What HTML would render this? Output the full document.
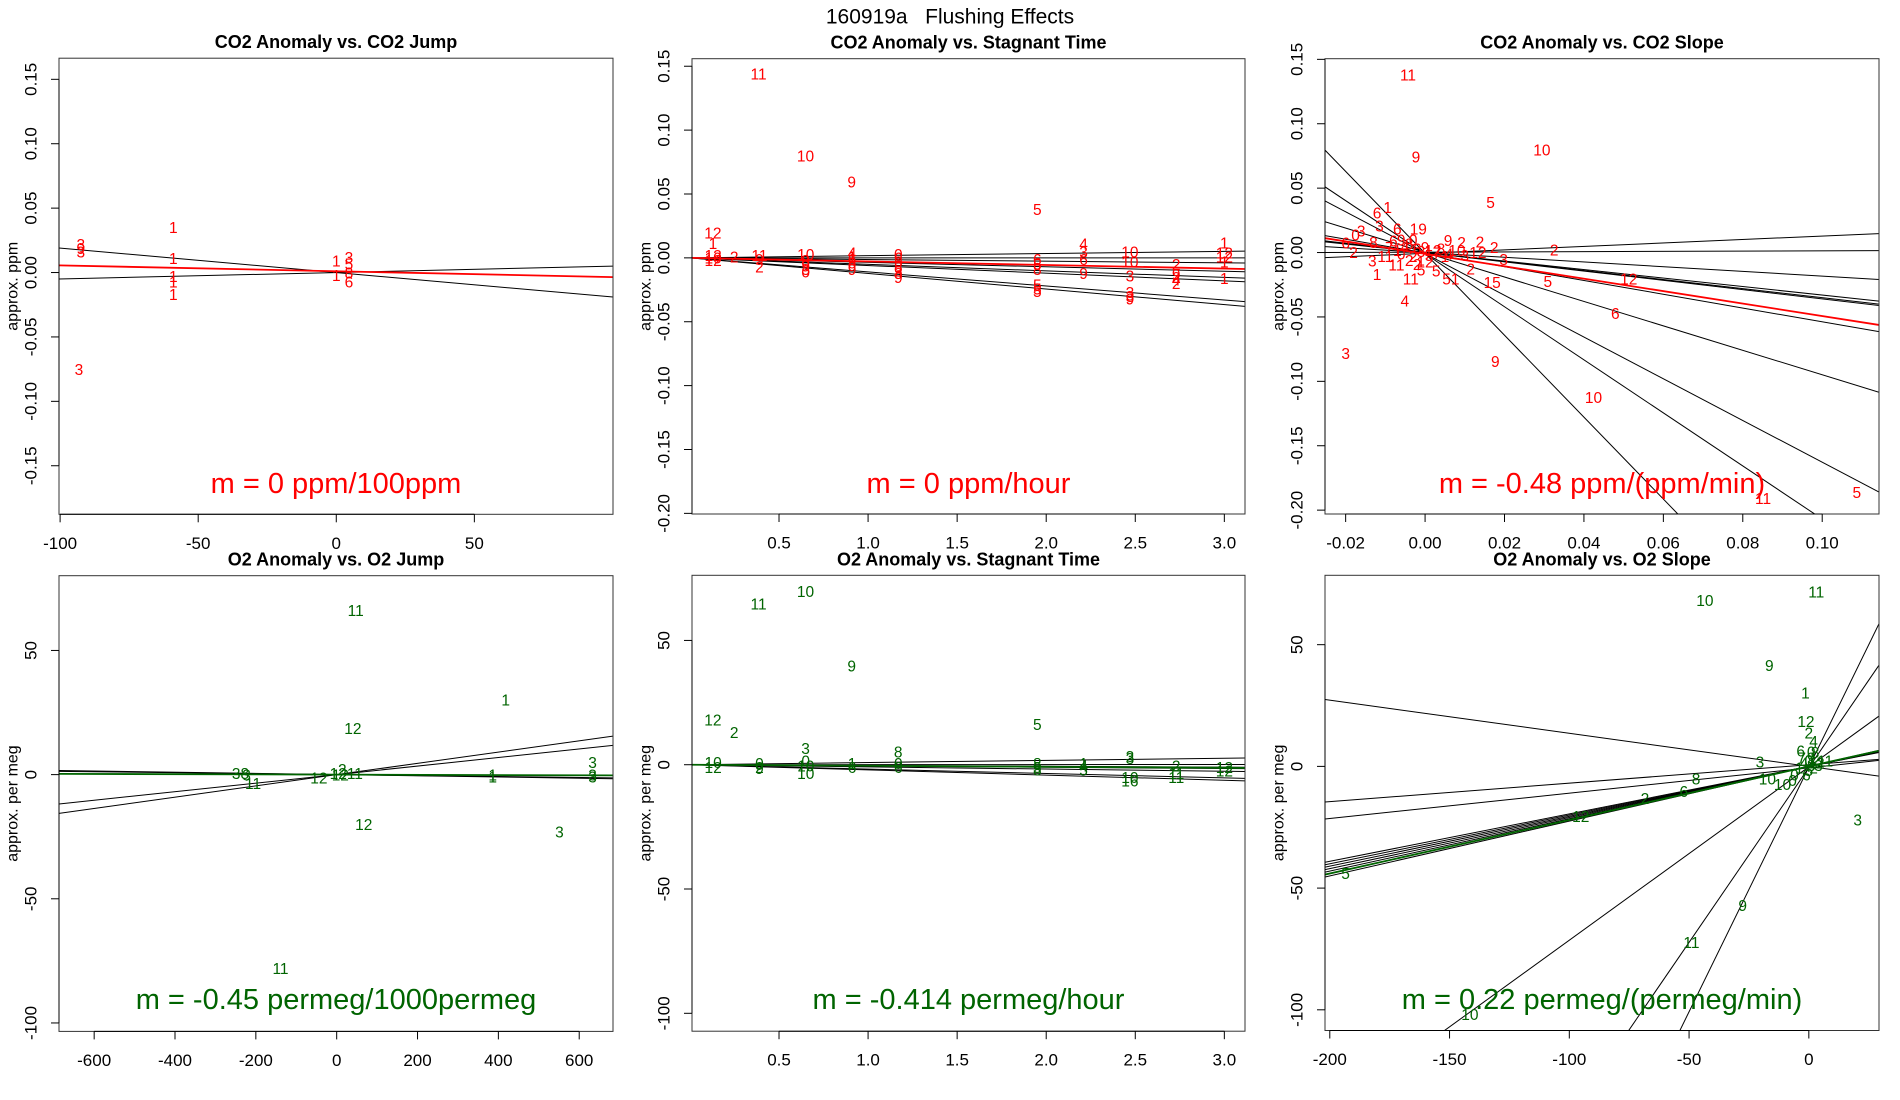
<!DOCTYPE html>
<html><head><meta charset="utf-8"><style>
html,body{margin:0;padding:0;background:#fff;width:1900px;height:1100px;overflow:hidden;}
svg{display:block;font-family:"Liberation Sans",Arial,sans-serif;}
</style></head><body>
<svg id="chart" width="1900" height="1100" viewBox="0 0 1900 1100" xmlns="http://www.w3.org/2000/svg">
<rect x="0" y="0" width="1900" height="1100" fill="#fff"/>
<text x="950" y="17" text-anchor="middle" dominant-baseline="central" font-size="21" fill="#000" xml:space="preserve">160919a   Flushing Effects</text>
</svg>
<script>
// ---------- Panel 1: CO2 Anomaly vs CO2 Jump ----------
const p1Lab = ["3","9","3","1","1","1","1","1","3","1","3","1","5","6","8"];
const p1X = [-92.5,-92.5,-92.5,-59,-59,-59,-59,-59,-93.2,0,4.6,0,4.6,4.6,4.6];
const p1Y = [0.021,0.018,0.015,0.034,0.010,-0.004,-0.008,-0.018,-0.076,0.008,0.011,-0.003,0.006,-0.008,-0.001];
const p1Slopes = [-0.00019,0.00005];
const p1Ints = [0,0];
const p1FitSlope = [-0.0000455];
const p1FitInt = [0.001];
const p1XTicks = [-100,-50,0,50];
const p1XTickLabels = ["-100","-50","0","50"];
const p1YTicks = [-0.15,-0.10,-0.05,0,0.05,0.10,0.15];
const p1YTickLabels = ["-0.15","-0.10","-0.05","0.00","0.05","0.10","0.15"];

// ---------- Panel 2: CO2 Anomaly vs Stagnant Time ----------
const p2Lab = ["11","10","9","5","12","1","12","10","12","2","11","9","2","10","8","9","3","0","4","1","6","8","9","0","6","5","8","3","8","9","6","5","8","5","5","5","4","3","6","9","10","10","3","3","3","9","2","9","2","4","2","1","12","12","1","1"];
const p2X = [0.385,0.649,0.908,1.95,0.129,0.129,0.13,0.13,0.13,0.248,0.39,0.39,0.39,0.65,0.65,0.65,0.65,0.65,0.91,0.91,0.91,0.91,0.91,1.17,1.17,1.17,1.17,1.17,1.17,1.17,1.95,1.95,1.95,1.95,1.95,1.95,2.21,2.21,2.21,2.21,2.47,2.47,2.47,2.47,2.47,2.47,2.73,2.73,2.73,2.73,2.73,3.0,3.0,3.0,3.0,3.0];
const p2Y = [0.143,0.079,0.0585,0.037,0.0186,0.0106,0.001,-0.001,-0.003,0,0.001,-0.002,-0.008,0.002,-0.003,-0.007,-0.010,-0.012,0.003,0.0,-0.002,-0.005,-0.010,0.002,-0.001,-0.004,-0.008,-0.011,-0.013,-0.016,-0.002,-0.006,-0.010,-0.022,-0.025,-0.027,0.010,0.004,-0.002,-0.013,0.004,-0.004,-0.015,-0.028,-0.031,-0.033,-0.006,-0.014,-0.016,-0.018,-0.021,0.011,0.003,0.000,-0.004,-0.017];
const p2Slopes = [0.0017,0.0,-0.0013,-0.0035,-0.0051,-0.006,-0.011,-0.0122];
const p2Ints = [0,0,0,0,0,0,0,0];
const p2FitSlope = [-0.0028];
const p2FitInt = [0];
const p2XTicks = [0.5,1.0,1.5,2.0,2.5,3.0];
const p2XTickLabels = ["0.5","1.0","1.5","2.0","2.5","3.0"];
const p2YTicks = [-0.20,-0.15,-0.10,-0.05,0,0.05,0.10,0.15];
const p2YTickLabels = ["-0.20","-0.15","-0.10","-0.05","0.00","0.05","0.10","0.15"];

// ---------- Panel 3: CO2 Anomaly vs CO2 Slope ----------
const p3Lab = ["11","10","9","5","6","1","3","6","19","3","0","6","2","8","3","1","11","11","4","3","9","2","2","2","12","3","2","5","5","51","15","2","5","12","6","9","10","11","5","7","1","0","4","8","2","6","3","9","5","12","7","8","1","4","10","3","6","9","2","11","0","12","2"];
const p3X = [-0.0043,0.0294,-0.0023,0.0165,-0.0121,-0.0094,-0.0115,-0.007,-0.0017,-0.0161,-0.0175,-0.020,-0.018,-0.013,-0.0133,-0.0121,-0.0072,-0.0036,-0.0051,-0.020,0.0058,0.0092,0.0138,0.0174,0.0133,0.0198,0.0115,0.0028,-0.001,0.0065,0.0169,0.0325,0.0309,0.0513,0.0479,0.0177,0.0424,0.0851,0.1087,-0.009,-0.007,-0.006,-0.005,-0.004,-0.003,-0.002,-0.001,0.000,0.001,0.002,0.003,0.004,0.005,0.006,0.008,0.010,-0.008,-0.006,-0.004,-0.010,-0.003,0.0,-0.002];
const p3Y = [0.137,0.079,0.0734,0.038,0.030,0.034,0.020,0.0176,0.0176,0.0158,0.013,0.0066,-0.0008,0.007,-0.0074,-0.0179,-0.0105,-0.0213,-0.0384,-0.0792,0.0084,0.0071,0.0076,0.0032,-0.0008,-0.006,-0.0134,-0.0153,-0.0145,-0.0213,-0.024,0.0013,-0.0232,-0.0213,-0.0482,-0.0855,-0.1134,-0.1916,-0.1871,0.003,0.001,-0.002,0.004,0.006,-0.004,0.002,0.0,0.003,-0.003,0.001,-0.001,0.002,-0.004,-0.002,0.001,-0.003,0.008,0.009,-0.007,-0.004,0.009,-0.008,-0.010];
const p3Slopes = [-3.18,-2.06,-1.62,-0.949,-0.535,-0.33,-0.35,-0.36,-0.183,0.01,0.134];
const p3Ints = [-0.0006,-0.0009,-0.0008,0,-0.0003,0,0,0,0,0.0003,-0.0006];
const p3FitSlope = [-0.483];
const p3FitInt = [-0.001];
const p3XTicks = [-0.02,0,0.02,0.04,0.06,0.08,0.10];
const p3XTickLabels = ["-0.02","0.00","0.02","0.04","0.06","0.08","0.10"];
const p3YTicks = [-0.20,-0.15,-0.10,-0.05,0,0.05,0.10,0.15];
const p3YTickLabels = ["-0.20","-0.15","-0.10","-0.05","0.00","0.05","0.10","0.15"];

// ---------- Panel 4: O2 Anomaly vs O2 Jump ----------
const p4Lab = ["11","1","12","3","3","3","1","1","3","12","11","38","3","11","12","12","12","2","11"];
const p4X = [47,418,40,633,633,633,386,386,551,67,-139,-238,-223,-207,-44,4,9,14,45];
const p4Y = [65.7,29.7,18.2,4.5,-1.3,-0.5,-1.3,-0.6,-23.6,-20.5,-78.4,0,-0.6,-3.9,-1.7,0.1,-0.6,1.6,0.1];
const p4Slopes = [-0.0024,-0.0019,0.0172,0.0227];
const p4Ints = [0,0,0,0];
const p4FitSlope = [-0.00045];
const p4FitInt = [0];
const p4XTicks = [-600,-400,-200,0,200,400,600];
const p4XTickLabels = ["-600","-400","-200","0","200","400","600"];
const p4YTicks = [-100,-50,0,50];
const p4YTickLabels = ["-100","-50","0","50"];

// ---------- Panel 5: O2 Anomaly vs Stagnant Time ----------
const p5Lab = ["10","11","9","12","2","5","3","8","10","12","0","2","9","0","10","10","1","6","0","6","8","5","8","1","4","5","3","3","10","16","2","11","11","12","12"];
const p5X = [0.649,0.385,0.908,0.129,0.248,1.95,0.649,1.169,0.13,0.13,0.39,0.39,0.39,0.65,0.65,0.65,0.91,0.91,1.17,1.17,1.95,1.95,1.95,2.21,2.21,2.21,2.47,2.47,2.47,2.47,2.73,2.73,2.73,3.0,3.0];
const p5Y = [69.3,64.3,39.4,17.6,12.5,15.7,6.1,4.7,0.5,-1.5,0,-1.5,-2,1,-1,-4,0,-1.5,0,-1.5,0,-1.5,-2.5,0,-1,-2.5,3,2,-5.5,-7,-1,-4,-5.5,-1.5,-3];
const p5Slopes = [0.87,0.03,-0.32,-0.51,-0.87,-1.77,-2.09];
const p5Ints = [0,0,0,0,0,0,0];
const p5FitSlope = [-0.414];
const p5FitInt = [0];
const p5XTicks = [0.5,1.0,1.5,2.0,2.5,3.0];
const p5XTickLabels = ["0.5","1.0","1.5","2.0","2.5","3.0"];
const p5YTicks = [-100,-50,0,50];
const p5YTickLabels = ["-100","-50","0","50"];

// ---------- Panel 6: O2 Anomaly vs O2 Slope ----------
const p6Lab = ["10","11","9","1","12","2","4","6","0","8","3","8","10","10","0","6","2","12","3","5","9","11","10","11","1","4","6","0","8","2","7","5","12","9","0","3"];
const p6X = [-43.4,3.1,-16.5,-1.4,-1.2,0,2,-3.4,1,2.6,-20.4,-47.1,-17.3,-11,-6.8,-52.2,-68.4,-95.2,20.4,-193.4,-27.6,-49,-141.5,6.8,-4,-2,-1,0,1,2,-3,0,3,1,-6,4];
const p6Y = [67.7,71.2,41.1,29.8,18,13.3,9.9,6,5.5,5.2,1.4,-5.5,-5.5,-7.9,-6.2,-10.8,-13.7,-20.9,-22.5,-44.4,-57.6,-72.8,-102.3,1.7,-1,1,-4,2,0,-1,3,-2,1,3,-4,0];
const p6Slopes = [2.01,1.436,0.712,-0.136,0.0758,0.104,0.195,0.2,0.205,0.21,0.215,0.225];
const p6Ints = [-0.3,-0.5,-0.2,0,0.68,-0.6,0,0,0,0,0,0];
const p6FitSlope = [0.22];
const p6FitInt = [0];
const p6XTicks = [-200,-150,-100,-50,0];
const p6XTickLabels = ["-200","-150","-100","-50","0"];
const p6YTicks = [-100,-50,0,50];
const p6YTickLabels = ["-100","-50","0","50"];

const NS = "http://www.w3.org/2000/svg";
const svg = document.getElementById("chart");
function mk(tag, attrs, parent){
  const e = document.createElementNS(NS, tag);
  for (const k in attrs) e.setAttribute(k, attrs[k]);
  (parent||svg).appendChild(e);
  return e;
}

const panels = [
 {id:"co2-jump", title:"CO2 Anomaly vs. CO2 Jump", L:59,R:613,T:58.2,B:514.3, xlim:[-100.4,100.2], ylim:[-0.1877,0.1664],
  X:p1X,Y:p1Y,Lab:p1Lab,S:p1Slopes,I:p1Ints,FS:p1FitSlope,FI:p1FitInt,xt:p1XTicks,xtl:p1XTickLabels,yt:p1YTicks,ytl:p1YTickLabels,
  col:"#ff0000", ylab:"approx. ppm", m:"m = 0 ppm/100ppm", mY:484},
 {id:"co2-stagnant", title:"CO2 Anomaly vs. Stagnant Time", L:692,R:1245,T:58.7,B:514, xlim:[0.0115,3.116], ylim:[-0.2005,0.1559],
  X:p2X,Y:p2Y,Lab:p2Lab,S:p2Slopes,I:p2Ints,FS:p2FitSlope,FI:p2FitInt,xt:p2XTicks,xtl:p2XTickLabels,yt:p2YTicks,ytl:p2YTickLabels,
  col:"#ff0000", ylab:"approx. ppm", m:"m = 0 ppm/hour", mY:484},
 {id:"co2-slope", title:"CO2 Anomaly vs. CO2 Slope", L:1325,R:1879,T:58.7,B:514, xlim:[-0.0252,0.1143], ylim:[-0.2030,0.1505],
  X:p3X,Y:p3Y,Lab:p3Lab,S:p3Slopes,I:p3Ints,FS:p3FitSlope,FI:p3FitInt,xt:p3XTicks,xtl:p3XTickLabels,yt:p3YTicks,ytl:p3YTickLabels,
  col:"#ff0000", ylab:"approx. ppm", m:"m = -0.48 ppm/(ppm/min)", mY:484},
 {id:"o2-jump", title:"O2 Anomaly vs. O2 Jump", L:59,R:613,T:575.7,B:1031.4, xlim:[-687,683.6], ylim:[-103.4,80.1],
  X:p4X,Y:p4Y,Lab:p4Lab,S:p4Slopes,I:p4Ints,FS:p4FitSlope,FI:p4FitInt,xt:p4XTicks,xtl:p4XTickLabels,yt:p4YTicks,ytl:p4YTickLabels,
  col:"#006400", ylab:"approx. per meg", m:"m = -0.45 permeg/1000permeg", mY:1000},
 {id:"o2-stagnant", title:"O2 Anomaly vs. Stagnant Time", L:692,R:1245,T:575.3,B:1031.2, xlim:[0.0115,3.116], ylim:[-107.2,76.2],
  X:p5X,Y:p5Y,Lab:p5Lab,S:p5Slopes,I:p5Ints,FS:p5FitSlope,FI:p5FitInt,xt:p5XTicks,xtl:p5XTickLabels,yt:p5YTicks,ytl:p5YTickLabels,
  col:"#006400", ylab:"approx. per meg", m:"m = -0.414 permeg/hour", mY:1000},
 {id:"o2-slope", title:"O2 Anomaly vs. O2 Slope", L:1325,R:1879,T:575.3,B:1030.5, xlim:[-202,29.3], ylim:[-108.5,78.5],
  X:p6X,Y:p6Y,Lab:p6Lab,S:p6Slopes,I:p6Ints,FS:p6FitSlope,FI:p6FitInt,xt:p6XTicks,xtl:p6XTickLabels,yt:p6YTicks,ytl:p6YTickLabels,
  col:"#006400", ylab:"approx. per meg", m:"m = 0.22 permeg/(permeg/min)", mY:1000}
];

panels.forEach((p, pi) => {
  const g = mk("g", {});
  
  
  const sx = v => p.L + (v - p.xlim[0]) / (p.xlim[1] - p.xlim[0]) * (p.R - p.L);
  const sy = v => p.B - (v - p.ylim[0]) / (p.ylim[1] - p.ylim[0]) * (p.B - p.T);
  const cid = "clip" + pi;
  const cp = mk("clipPath", {id: cid}, g);
  mk("rect", {x:p.L, y:p.T, width:p.R-p.L, height:p.B-p.T}, cp);

  const t = mk("text", {x:(p.L+p.R)/2, y:p.T-16, "text-anchor":"middle", "dominant-baseline":"central", "font-size":18, "font-weight":"bold", fill:"#000"}, g);
  t.textContent = p.title;
  
  

  const lg = mk("g", {"clip-path":"url(#"+cid+")"}, g);
  p.S.forEach((s, i) => {
    const b = p.I[i];
    const l = mk("line", {x1:sx(p.xlim[0]), y1:sy(b + s*p.xlim[0]), x2:sx(p.xlim[1]), y2:sy(b + s*p.xlim[1]), stroke:"#000", "stroke-width":1}, lg);
    
    
  });
  p.FS.forEach((s, i) => {
    const b = p.FI[i];
    const l = mk("line", {x1:sx(p.xlim[0]), y1:sy(b + s*p.xlim[0]), x2:sx(p.xlim[1]), y2:sy(b + s*p.xlim[1]), stroke:p.col, "stroke-width":1.8}, lg);
    
    
  });

  p.X.forEach((xv, i) => {
    const e = mk("text", {x:sx(xv), y:sy(p.Y[i]), "text-anchor":"middle", "dominant-baseline":"central", "font-size":15.5, fill:p.col}, g);
    e.textContent = p.Lab[i];
    
    
  });

  const fr = mk("rect", {x:p.L, y:p.T, width:p.R-p.L, height:p.B-p.T, fill:"none", stroke:"#333", "stroke-width":1}, g);
  
  

  const xa = mk("g", {}, g);
  
  
  mk("line", {x1:sx(p.xt[0]), y1:p.B, x2:sx(p.xt[p.xt.length-1]), y2:p.B, stroke:"#000"}, xa);
  p.xt.forEach((v, i) => {
    mk("line", {x1:sx(v), y1:p.B, x2:sx(v), y2:p.B+8, stroke:"#000"}, xa);
    const e = mk("text", {x:sx(v), y:p.B+29, "text-anchor":"middle", "dominant-baseline":"central", "font-size":17, fill:"#000"}, xa);
    e.textContent = p.xtl[i];
    
    
  });

  const ya = mk("g", {}, g);
  
  
  mk("line", {x1:p.L, y1:sy(p.yt[0]), x2:p.L, y2:sy(p.yt[p.yt.length-1]), stroke:"#000"}, ya);
  p.yt.forEach((v, i) => {
    mk("line", {x1:p.L-8, y1:sy(v), x2:p.L, y2:sy(v), stroke:"#000"}, ya);
    const xx = p.L - 28, yy = sy(v);
    const e = mk("text", {x:xx, y:yy, "text-anchor":"middle", "dominant-baseline":"central", "font-size":17, fill:"#000", transform:"rotate(-90 "+xx+" "+yy+")"}, ya);
    e.textContent = p.ytl[i];
    
    
  });
  const yl = (p.T + p.B) / 2, xl = p.L - 46;
  const ylb = mk("text", {x:xl, y:yl, "text-anchor":"middle", "dominant-baseline":"central", "font-size":16, fill:"#000", transform:"rotate(-90 "+xl+" "+yl+")"}, g);
  ylb.textContent = p.ylab;
  
  

  const mt = mk("text", {x:(p.L+p.R)/2, y:p.mY, "text-anchor":"middle", "dominant-baseline":"central", "font-size":29, fill:p.col}, g);
  mt.textContent = p.m;
  
  
});
</script>
</body></html>
